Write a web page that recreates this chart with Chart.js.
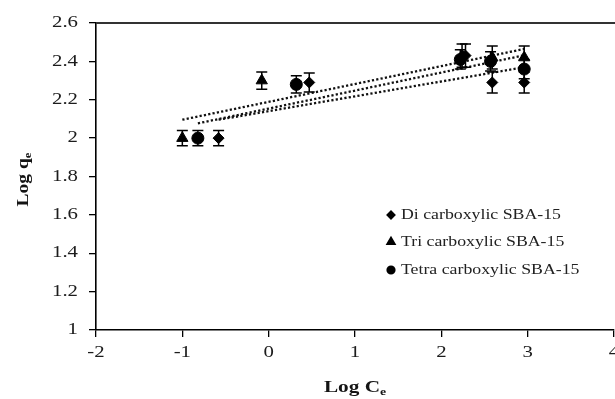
<!DOCTYPE html>
<html>
<head>
<meta charset="utf-8">
<script src="https://cdn.jsdelivr.net/npm/chart.js@4.4.1/dist/chart.umd.min.js"></script>
<style>
  html, body { margin: 0; padding: 0; background: #fff; overflow: hidden; }
  #wrap { width: 640px; height: 399px; }
</style>
</head>
<body>
<div id="wrap"><canvas id="c" width="640" height="399"></canvas></div>
<script>
// Freundlich isotherm, linear form: Log qe against Log Ce
const seriesNames = ['Di carboxylic SBA-15', 'Tri carboxylic SBA-15', 'Tetra carboxylic SBA-15'];

const diLogCe = [-0.58, 0.47, 2.28, 2.59, 2.96];
const diLogQe = [2.00, 2.29, 2.43, 2.29, 2.29];
const diErr   = [0.04, 0.05, 0.06, 0.055, 0.055];

const triLogCe = [-1.00, -0.08, 2.24, 2.59, 2.96];
const triLogQe = [2.00, 2.30, 2.43, 2.42, 2.42];
const triErr   = [0.04, 0.045, 0.06, 0.06, 0.06];

const tetraLogCe = [-0.82, 0.32, 2.22, 2.57, 2.96];
const tetraLogQe = [2.00, 2.28, 2.41, 2.40, 2.36];
const tetraErr   = [0.04, 0.045, 0.05, 0.05, 0.05];

const xTicks = [-2, -1, 0, 1, 2, 3, 4];
const xTickLabels = ['-2', '-1', '0', '1', '2', '3', '4'];
const yTicks = [1, 1.2, 1.4, 1.6, 1.8, 2, 2.2, 2.4, 2.6];
const yTickLabels = ['1', '1.2', '1.4', '1.6', '1.8', '2', '2.2', '2.4', '2.6'];

const markerStyles = ['rectRot', 'triangle', 'circle'];

function points(xs, ys) {
  return xs.map((x, i) => ({ x: x, y: ys[i] }));
}

// least-squares trend line spanning the range of each series
function trend(xs, ys) {
  const n = xs.length;
  const mx = xs.reduce((a, b) => a + b, 0) / n;
  const my = ys.reduce((a, b) => a + b, 0) / n;
  let sxy = 0, sxx = 0;
  for (let i = 0; i < n; i++) {
    sxy += (xs[i] - mx) * (ys[i] - my);
    sxx += (xs[i] - mx) * (xs[i] - mx);
  }
  const slope = sxy / sxx;
  const icpt = my - slope * mx;
  const lo = Math.min(...xs), hi = Math.max(...xs);
  return [{ x: lo, y: icpt + slope * lo }, { x: hi, y: icpt + slope * hi }];
}

const series = [
  { x: diLogCe, y: diLogQe, err: diErr, radius: 5.5 },
  { x: triLogCe, y: triLogQe, err: triErr, radius: 6.5 },
  { x: tetraLogCe, y: tetraLogQe, err: tetraErr, radius: 6 }
];

const SERIF = "'Liberation Serif', 'Times New Roman', serif";

function wideText(ctx, text, x, y, sx, align) {
  ctx.save();
  ctx.translate(x, y);
  ctx.scale(sx, 1);
  ctx.textAlign = align;
  ctx.fillText(text, 0, 0);
  ctx.restore();
}

// title with a subscript, centred on (0,0) of the current transform
function subTitle(ctx, main, sub, size, sx) {
  ctx.font = 'bold ' + size + 'px ' + SERIF;
  const wMain = ctx.measureText(main).width;
  ctx.font = 'bold ' + Math.round(size * 0.62) + 'px ' + SERIF;
  const wSub = ctx.measureText(sub).width;
  const total = (wMain + wSub) * sx;
  ctx.save();
  ctx.scale(sx, 1);
  ctx.textAlign = 'left';
  ctx.textBaseline = 'alphabetic';
  const start = -total / 2 / sx;
  ctx.font = 'bold ' + size + 'px ' + SERIF;
  ctx.fillText(main, start, size * 0.33);
  ctx.font = 'bold ' + Math.round(size * 0.62) + 'px ' + SERIF;
  ctx.fillText(sub, start + wMain, size * 0.33 + size * 0.22);
  ctx.restore();
}

const decorations = {
  id: 'decorations',
  afterDatasetsDraw(chart) {
    const ctx = chart.ctx;
    const xs = chart.scales.x, ys = chart.scales.y;
    ctx.save();
    ctx.strokeStyle = '#000';
    ctx.lineWidth = 1.5;
    series.forEach(s => {
      s.x.forEach((xv, i) => {
        const px = xs.getPixelForValue(xv);
        const top = ys.getPixelForValue(s.y[i] + s.err[i]);
        const bot = ys.getPixelForValue(s.y[i] - s.err[i]);
        ctx.beginPath();
        ctx.moveTo(px, top); ctx.lineTo(px, bot);
        ctx.moveTo(px - 5.5, top); ctx.lineTo(px + 5.5, top);
        ctx.moveTo(px - 5.5, bot); ctx.lineTo(px + 5.5, bot);
        ctx.stroke();
      });
    });
    ctx.restore();
  },
  afterDraw(chart) {
    const ctx = chart.ctx;
    const area = chart.chartArea;
    const xs = chart.scales.x, ys = chart.scales.y;
    ctx.save();

    // plot-area top edge
    ctx.strokeStyle = '#333';
    ctx.lineWidth = 2;
    ctx.beginPath();
    ctx.moveTo(area.left, area.top);
    ctx.lineTo(chart.width, area.top);
    ctx.stroke();

    // tick labels
    ctx.fillStyle = '#1c1c1c';
    ctx.font = '16px ' + SERIF;
    ctx.textBaseline = 'middle';
    yTicks.forEach((v, i) => {
      wideText(ctx, yTickLabels[i], area.left - 18, ys.getPixelForValue(v), 1.3, 'right');
    });
    xTicks.forEach((v, i) => {
      wideText(ctx, xTickLabels[i], xs.getPixelForValue(v), area.bottom + 23, 1.3, 'center');
    });

    // axis titles
    ctx.fillStyle = '#141414';
    ctx.save();
    ctx.translate((area.left + area.right) / 2, area.bottom + 56);
    subTitle(ctx, 'Log C', 'e', 17, 1.25);
    ctx.restore();
    ctx.save();
    ctx.translate(22, (area.top + area.bottom) / 2 + 3);
    ctx.rotate(-Math.PI / 2);
    subTitle(ctx, 'Log q', 'e', 17, 1.15);
    ctx.restore();

    // legend inside the plot area
    const lx = area.left + 295;
    const rows = [area.top + 192, area.top + 219, area.top + 247];
    const sizes = [3.5, 4.2, 3.6];
    chart.data.datasets.slice(0, 3).forEach((ds, i) => {
      ctx.fillStyle = '#000';
      ctx.strokeStyle = '#000';
      Chart.helpers.drawPoint(ctx, {
        pointStyle: markerStyles[i], radius: sizes[i], borderWidth: 1
      }, lx, rows[i]);
      ctx.fillStyle = '#222';
      ctx.font = '14px ' + SERIF;
      ctx.textBaseline = 'middle';
      wideText(ctx, ds.label, lx + 10, rows[i], 1.27, 'left');
    });
    ctx.restore();
  }
};

const scatterSets = series.map((s, i) => ({
  type: 'scatter',
  label: seriesNames[i],
  data: points(s.x, s.y),
  pointStyle: markerStyles[i],
  pointRadius: s.radius,
  pointBackgroundColor: '#000',
  pointBorderColor: '#000',
  pointBorderWidth: 1,
  order: 1
}));

const trendSets = series.map((s, i) => ({
  type: 'line',
  label: seriesNames[i] + ' trend',
  data: trend(s.x, s.y),
  borderColor: '#111',
  borderWidth: 2.3,
  borderDash: [2.2, 2.2],
  borderCapStyle: 'butt',
  pointRadius: 0,
  fill: false,
  order: 2
}));

new Chart(document.getElementById('c'), {
  type: 'scatter',
  data: { datasets: scatterSets.concat(trendSets) },
  options: {
    responsive: false,
    animation: false,
    devicePixelRatio: 1,
    layout: { padding: { top: 23, right: 26, left: 0, bottom: 0 } },
    plugins: { legend: { display: false }, tooltip: { enabled: false } },
    scales: {
      x: {
        type: 'linear', min: -2, max: 4,
        afterBuildTicks: s => { s.ticks = xTicks.map(v => ({ value: v })); },
        afterFit: s => { s.height = 69; },
        ticks: { display: false },
        grid: { drawOnChartArea: false, drawTicks: true, tickLength: 7, color: '#000', lineWidth: 1.3 },
        border: { color: '#000', width: 1.6 }
      },
      y: {
        type: 'linear', min: 1, max: 2.6,
        afterBuildTicks: s => { s.ticks = yTicks.map(v => ({ value: v })); },
        afterFit: s => { s.width = 96; },
        ticks: { display: false },
        grid: { drawOnChartArea: false, drawTicks: true, tickLength: 7, color: '#000', lineWidth: 1.3 },
        border: { color: '#000', width: 1.6 }
      }
    }
  },
  plugins: [decorations]
});
</script>
</body>
</html>
